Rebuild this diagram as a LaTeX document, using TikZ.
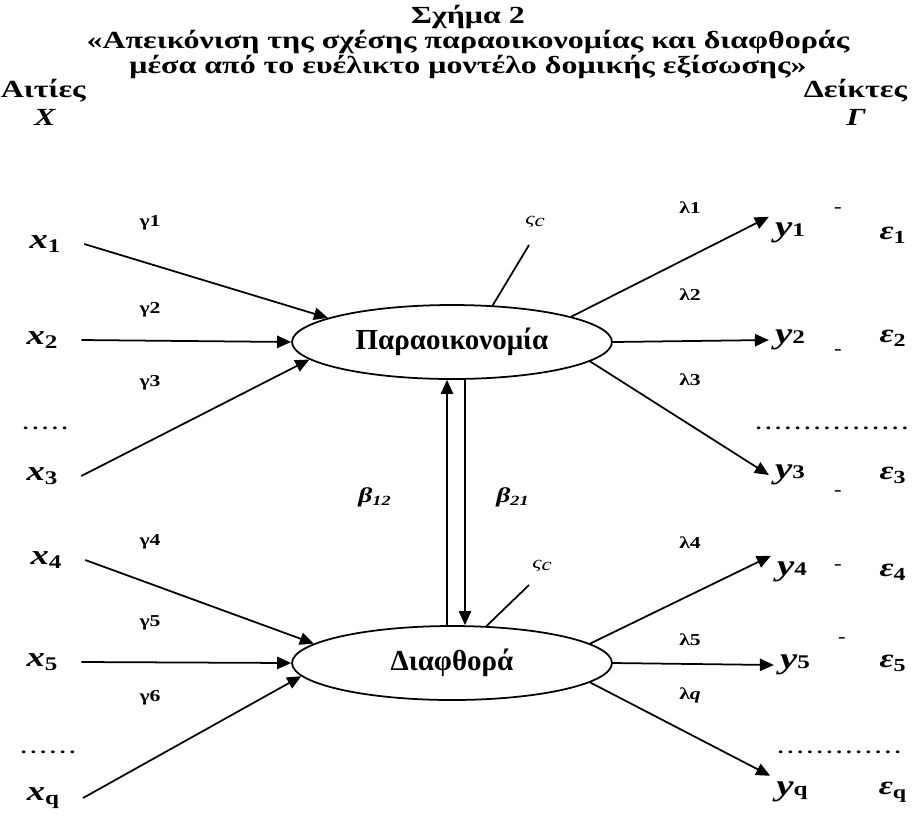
\documentclass[tikz,border=0pt]{standalone}
\usepackage{fontspec}
\setmainfont{Liberation Serif}[FakeStretch=1.3]
\newfontfamily\ellfont{Liberation Serif}
\usetikzlibrary{arrows.meta, shapes.geometric, positioning}
\frenchspacing

\newcommand\xlab[1]{\textit{x}{\fontsize{11}{12}\selectfont\raisebox{-2.5pt}{#1}}}
\newcommand\ylab[1]{\textit{y}{\fontsize{11}{12}\selectfont #1}}
\newcommand\elab[1]{\textit{ε}\textsubscript{#1}}
\newcommand\dotrow[1]{.\foreach\d in {2,...,#1}{\kern2.3pt.}}

\begin{document}
\begin{tikzpicture}[
  x=0.02cm, y=-0.02cm, line width=1pt,
  >={Triangle[length=8pt,width=7pt]},
  head/.style={font=\bfseries\fontsize{14}{14.2}\selectfont, inner sep=0pt},
  latent/.style={ellipse, draw, minimum width=6.4cm, minimum height=1.48cm,
    inner sep=0pt, font=\ellfont\bfseries\fontsize{16.5}{18}\selectfont},
  cause/.style={inner xsep=0.46cm, inner ysep=2pt, font=\bfseries\fontsize{16}{18}\selectfont},
  indic/.style={inner sep=3pt, font=\bfseries\fontsize{17}{20}\selectfont},
  err/.style={font=\bfseries\fontsize{15}{18}\selectfont},
  coef/.style={font=\bfseries\fontsize{9.5}{11}\selectfont},
  tickmark/.style={font=\bfseries\fontsize{10}{11}\selectfont},
  leader/.style={font=\bfseries\fontsize{10}{10}\selectfont, anchor=west, inner sep=0pt},
  ]

  \useasboundingbox (0,0) rectangle (912,816);

  % titles
  \node[head, align=center] (title) at (468,42)
    {Σχήμα 2\\«Απεικόνιση της σχέσης παραοικονομίας και διαφθοράς\\μέσα από το ευέλικτο μοντέλο δομικής εξίσωσης»};
  \node[head, anchor=west] (causes) at (0,91) {Αιτίες};
  \node[head] (X) at (45,117) {\textit{X}};
  \node[head, anchor=east] (indicators) at (908,91) {Δείκτες};
  \node[head] (Gamma) at (856,117) {\textit{Γ}};

  % latent variables
  \node[latent] (par) at (452,342) {Παραοικονομία};
  \node[latent] (dia) at (452,663) {Διαφθορά};

  % causes
  \node[cause] (x1) at (45,244) {\xlab{1}};
  \node[cause] (x2) at (42,340) {\xlab{2}};
  \node[cause] (x3) at (42,476) {\xlab{3}};
  \node[cause] (x4) at (46,560) {\xlab{4}};
  \node[cause] (x5) at (42,662) {\xlab{5}};
  \node[cause] (xq) at (43,798) {\xlab{q}};
  \node[leader] (dl1) at (22,428) {\dotrow{5}};
  \node[leader] (dl2) at (20,752) {\dotrow{6}};

  % indicators and errors
  \node[indic] (y1) at (790,233) {\ylab{1}};
  \node[indic] (y2) at (790,340) {\ylab{2}};
  \node[indic] (y3) at (790,475) {\ylab{3}};
  \node[indic] (y4) at (792,572) {\ylab{4}};
  \node[indic] (y5) at (795,665) {\ylab{5}};
  \node[indic] (yq) at (792,792) {\ylab{q}};
  \node[err] (e1) at (893,235) {\elab{1}};
  \node[err] (e2) at (893,338) {\elab{2}};
  \node[err] (e3) at (893,475) {\elab{3}};
  \node[err] (e4) at (893,572) {\elab{4}};
  \node[err] (e5) at (893,663) {\elab{5}};
  \node[err] (eq) at (893,792) {\elab{q}};
  \node[tickmark] (m1) at (838,210) {-};
  \node[tickmark] (m2) at (838,352) {-};
  \node[tickmark] (m3) at (838,493) {-};
  \node[tickmark] (m4) at (838,567) {-};
  \node[tickmark] (m5) at (842,640) {-};
  \node[leader] (dr1) at (755,428) {\dotrow{17}};
  \node[leader] (dr2) at (777,752) {\dotrow{13}};

  % coefficients
  \node[coef] (g1) at (150,223) {γ1};
  \node[coef] (g2) at (150,310) {γ2};
  \node[coef] (g3) at (150,383) {γ3};
  \node[coef] (g4) at (150,542) {γ4};
  \node[coef] (g5) at (150,623) {γ5};
  \node[coef] (g6) at (150,698) {γ6};
  \node[coef] (l1) at (690,208) {λ1};
  \node[coef] (l2) at (690,295) {λ2};
  \node[coef] (l3) at (690,380) {λ3};
  \node[coef] (l4) at (690,543) {λ4};
  \node[coef] (l5) at (690,640) {λ5};
  \node[coef] (lq) at (690,695) {λ\textit{q}};
  \node[coef, font=\bfseries\itshape\fontsize{12}{14}\selectfont] (b12) at (375,497) {β\textsubscript{12}};
  \node[coef, font=\bfseries\itshape\fontsize{12}{14}\selectfont] (b21) at (513,497) {β\textsubscript{21}};
  \node[coef, font=\itshape\fontsize{10}{12}\selectfont] (z1) at (535,222) {ς\raisebox{-1pt}{c}};
  \node[coef, font=\itshape\fontsize{10}{12}\selectfont] (z2) at (542,566) {ς\raisebox{-1pt}{c}};
  \coordinate (zt1) at (529,245);
  \coordinate (zt2) at (529,585);

  \path[->] (x1.east) edge (par.169)
            (x2.east) edge (par.west)
            (x3.east) edge (par.187)
            (x4.east) edge (dia.172)
            (x5.east) edge (dia.west)
            (xq.east) edge (dia.185);
  \path[->] (par.12) edge (y1.north west)
            (par.east) edge (y2.west)
            (par.352) edge (y3.west)
            (dia.8) edge (y4.north west)
            (dia.east) edge (y5.west)
            (dia.352) edge (yq.north west);
  \draw[->] ([xshift=-0.1cm]dia.north) -- ([xshift=-0.1cm]par.south);
  \draw[->] ([xshift=0.26cm]par.south) -- ([xshift=0.26cm]dia.north);
  \draw (zt1) -- (par.42);
  \draw (zt2) -- (dia.47);
\end{tikzpicture}
\end{document}
